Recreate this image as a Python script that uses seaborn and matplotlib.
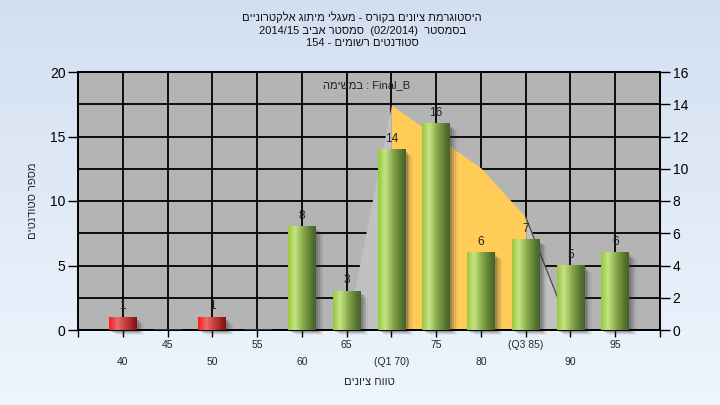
import re
import numpy as np
import pandas as pd
import matplotlib
matplotlib.use("Agg")
import matplotlib.pyplot as plt
import matplotlib.transforms as mtransforms
from matplotlib.colors import LinearSegmentedColormap
from matplotlib.patches import Rectangle
import seaborn as sns

# grade bins and number of students per bin
grade_bins = [40, 45, 50, 55, 60, 65, 70, 75, 80, 85, 90, 95]
tick_labels = ['40', '45', '50', '55', '60', '65', '(Q1 70)', '75', '80', '(Q3 85)', '90', '95']
student_counts = [1, 0, 1, 0, 8, 3, 14, 16, 6, 7, 5, 6]
pass_grade = 55

# distribution curve (right axis), Q1..Q3 filled in yellow
curve_grades = [65, 70, 75, 80, 85, 90]
curve_values = [0, 13.95, 12.0, 10.05, 7.0, 0]
q1_grade, q3_grade = 70, 85

title_lines = ['היסטוגרמת ציונים בקורס - מעגלי מיתוג אלקטרוניים',
               'בסמסטר  (02/2014)  סמסטר אביב 2014/15',
               'סטודנטים רשומים - 154']
task_label = 'Final_B : במשימה'
x_title = 'טווח ציונים'
y_title = 'מספר סטודנטים'


def visual(s):
    # matplotlib has no bidi support, so put the RTL text in display order
    out = s[::-1]
    out = re.sub(r'[A-Za-z0-9_/.]+', lambda m: m.group(0)[::-1], out)
    return out.translate(str.maketrans('()', ')('))


sns.set_style("white")
plt.rcParams['font.family'] = ['Liberation Sans', 'DejaVu Sans']

fig = plt.figure(figsize=(7.2, 4.05), dpi=100)

# light blue gradient background
bg = fig.add_axes([0, 0, 1, 1], zorder=-5)
bg.imshow(np.linspace(0, 1, 256).reshape(-1, 1), aspect='auto', extent=[0, 1, 0, 1],
          cmap=LinearSegmentedColormap.from_list('bg', ['#d3dff1', '#eef5fd']))
bg.axis('off')

ax = fig.add_axes([78 / 720, 75 / 405, 582 / 720, 258 / 405])
ax2 = ax.twinx()
ax.set_zorder(ax2.get_zorder() + 1)
ax.patch.set_visible(False)
ax2.patch.set_visible(True)
ax2.set_facecolor('#b4b4b4')

# grid and curve on the lower (right) axes so the bars sit on top
ax2.xaxis.set_visible(True)
ax2.tick_params(axis='x', bottom=False, top=False, labelbottom=False)
ax2.set_axisbelow(True)
ax2.grid(True, color='black', linewidth=1.3)

xs = [grade_bins.index(g) for g in curve_grades]
i1, i3 = curve_grades.index(q1_grade), curve_grades.index(q3_grade)
ax2.fill_between(xs[:i1 + 1], curve_values[:i1 + 1], color='#c1c1c1', linewidth=0)
ax2.fill_between(xs[i3:], curve_values[i3:], color='#c1c1c1', linewidth=0)
ax2.fill_between(xs[i1:i3 + 1], curve_values[i1:i3 + 1], color='#ffcc58', linewidth=0)
ax2.plot(xs[i3:], curve_values[i3:], color='#4a4a4a', linewidth=0.9)
ax2.set_ylim(0, 16)
ax2.set_yticks(range(0, 17, 2))
ax2.tick_params(axis='y', length=7, width=1, labelsize=10, pad=2, colors='black')

df = pd.DataFrame({'grade': [str(g) for g in grade_bins], 'count': student_counts})
sns.barplot(data=df, x='grade', y='count', ax=ax, width=0.62, color='#9ccc3c',
            saturation=1, zorder=3)

green = LinearSegmentedColormap.from_list('g', [(0, '#98c83a'), (0.25, '#c6e486'), (0.55, '#86a84a'),
                                                (0.85, '#56752e'), (1, '#47622a')])
red = LinearSegmentedColormap.from_list('r', [(0, '#ff1a1a'), (0.3, '#ea6a6a'), (0.6, '#c43c3c'),
                                              (1, '#7e1010')])
grad = np.linspace(0, 1, 64).reshape(1, -1)

for i, p in enumerate(ax.patches):
    h = p.get_height()
    if h <= 0:
        continue
    x0, w = p.get_x(), p.get_width()
    # soft shadow to the right and below
    for k, a in enumerate([0.22, 0.16, 0.1, 0.06]):
        ax.add_patch(Rectangle((x0 + 0.05 + 0.04 * k, -0.12 - 0.1 * k), w, h - 0.1,
                               color='#303030', alpha=a, linewidth=0, zorder=2.5, clip_on=False))
    cmap = green if grade_bins[i] >= pass_grade else red
    ax.imshow(grad, cmap=cmap, aspect='auto', extent=[x0, x0 + w, 0, h], zorder=3)
    p.set_facecolor('none')
    p.set_edgecolor('none')

ax.bar_label(ax.containers[0], labels=[str(c) if c > 0 else '' for c in student_counts],
             padding=3.5, fontsize=8.5, color='#202020')

ax.set_xlim(-1, 12)
ax.set_ylim(0, 20)
ax.set_xticks(range(-1, 13))
ax.set_xticklabels([])
ax.set_yticks([0, 5, 10, 15, 20])
ax.tick_params(axis='x', length=5, width=1, colors='black')
ax.tick_params(axis='y', length=7, width=1, labelsize=10, pad=2, colors='black')
ax.tick_params(left=True, bottom=True)

trans = mtransforms.blended_transform_factory(ax.transData, ax.transAxes)
for i, lab in enumerate(tick_labels):
    ypos = -0.058 if i % 2 else -0.124
    ax.text(i, ypos, lab, transform=trans, ha='center', va='center', fontsize=7.5, clip_on=False)

for a in (ax, ax2):
    for s in a.spines.values():
        s.set_visible(True)
        s.set_color('black')
        s.set_linewidth(1.3)

ax.set_xlabel(visual(x_title), fontsize=8)
ax.xaxis.set_label_coords(0.5, -0.182)
ax.set_ylabel(visual(y_title), fontsize=8)
ax.yaxis.set_label_coords(-0.069, 0.5)
ax2.set_ylabel('')

ax.text(0.495, 0.95, visual(task_label), transform=ax.transAxes, ha='center', va='center',
        fontsize=8, color='#202020', zorder=5)

fig.text(0.503, 1 - 30 / 405, '\n'.join(visual(t) for t in title_lines), ha='center', va='center',
         fontsize=8, linespacing=1.3, color='#101010')

fig.savefig('out.png', dpi=100)
